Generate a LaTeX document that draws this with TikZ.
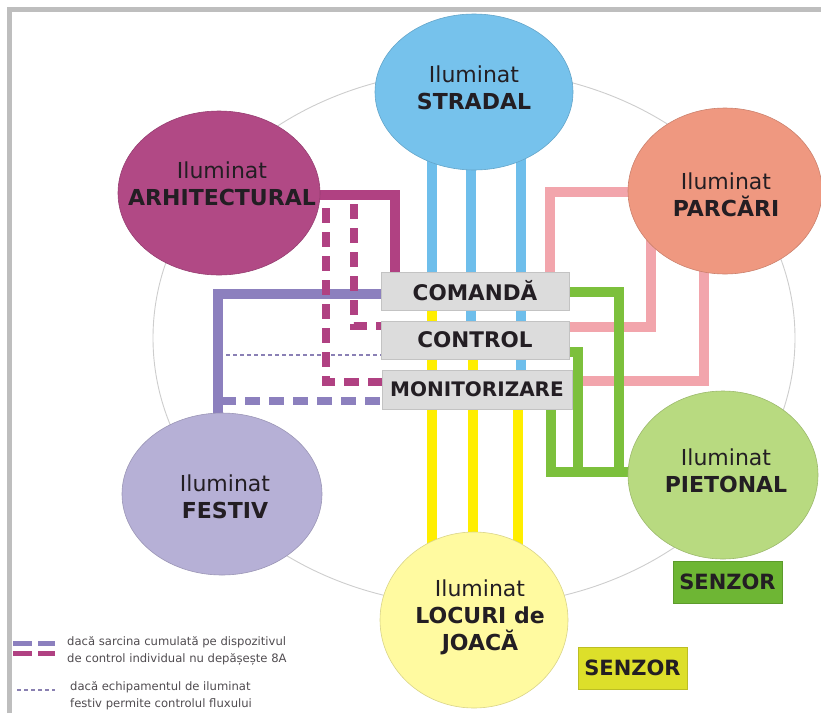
\documentclass[tikz,border=0pt]{standalone}
\usepackage{fontspec}
\setmainfont{DejaVu Sans}
\usetikzlibrary{shapes.geometric,backgrounds}
\definecolor{cStr}{RGB}{118,194,236}
\definecolor{cArh}{RGB}{177,73,133}
\definecolor{cPar}{RGB}{239,152,128}
\definecolor{cPie}{RGB}{184,218,128}
\definecolor{cFes}{RGB}{182,176,214}
\definecolor{cLoc}{RGB}{255,250,160}
\definecolor{lStr}{RGB}{110,190,235}
\definecolor{lArh}{RGB}{176,65,130}
\definecolor{lFes}{RGB}{140,128,190}
\definecolor{lPar}{RGB}{242,165,172}
\definecolor{lPie}{RGB}{124,192,60}
\definecolor{lLoc}{RGB}{255,238,0}
\definecolor{boxfill}{RGB}{220,220,220}
\definecolor{boxline}{RGB}{195,195,195}
\definecolor{txt}{RGB}{35,30,35}
\definecolor{framec}{RGB}{190,190,190}
\definecolor{ringc}{RGB}{205,205,205}
\definecolor{szGreen}{RGB}{110,182,52}
\definecolor{szYellow}{RGB}{221,223,42}
\begin{document}
\begin{tikzpicture}
    [x=1pt,y=-1pt,
     elli/.style={ellipse,inner sep=0pt,line width=0.6pt,fill=#1,draw=#1!85!black},
     ttl/.style={align=center,text=txt,inner sep=0pt,font=\fontsize{22}{27}\selectfont},
     cmd/.style={rectangle,draw=boxline,fill=boxfill,line width=1pt,inner sep=0pt,
                 minimum width=188pt,minimum height=38pt,text=txt,
                 font=\bfseries\fontsize{21.5}{26}\selectfont},
     senz/.style={rectangle,fill=#1,draw=#1!85!black,line width=0.6pt,inner sep=0pt,
                  minimum width=109pt,minimum height=42pt,text=txt,
                  font=\bfseries\fontsize{21}{26}\selectfont},
     wire/.style={line width=9.5pt},
     dwire/.style={line width=8pt,dash pattern=on 15pt off 9pt},
     twire/.style={line width=1.8pt,dash pattern=on 4pt off 3pt},
     leg/.style={align=left,inner sep=0pt,text=txt!80,font=\fontsize{11.6}{17.5}\selectfont}]
  \useasboundingbox (0,0) rectangle (821,713);

  % lighting types
  \node[elli=cStr,minimum width=198pt,minimum height=156pt] (str) at (474,92) {};
  \node[elli=cArh,minimum width=202pt,minimum height=164pt] (arh) at (219,193) {};
  \node[elli=cPar,minimum width=194pt,minimum height=166pt] (par) at (725,191) {};
  \node[elli=cPie,minimum width=190pt,minimum height=168pt] (pie) at (723,475) {};
  \node[elli=cFes,minimum width=200pt,minimum height=162pt] (fes) at (222,494) {};
  \node[elli=cLoc,minimum width=188pt,minimum height=176pt] (loc) at (474,620) {};

  \node[ttl] (str-t) at (474,88) {Iluminat\\\textbf{STRADAL}};
  \node[ttl] (arh-t) at (222,184) {Iluminat\\\textbf{ARHITECTURAL}};
  \node[ttl] (par-t) at (726,195) {Iluminat\\\textbf{PARCĂRI}};
  \node[ttl] (pie-t) at (726,471) {Iluminat\\\textbf{PIETONAL}};
  \node[ttl] (fes-t) at (225,497) {Iluminat\\\textbf{FESTIV}};
  \node[ttl] (loc-t) at (480,617) {Iluminat\\\textbf{LOCURI de}\\\textbf{JOACĂ}};

  % central blocks
  \node[cmd] (com) at (475,291) {COMANDĂ};
  \node[cmd] (ctl) at (475,340) {CONTROL};
  \node[cmd,minimum width=190pt,minimum height=39pt,
        font=\bfseries\fontsize{20}{24}\selectfont] (mon) at (477,389.5) {MONITORIZARE};

  \node[senz=szGreen] (sz1) at (727.5,582) {SENZOR};
  \node[senz=szYellow] (sz2) at (632.5,668) {SENZOR};

  % legend
  \draw[lFes,line width=5pt,dash pattern=on 19pt off 6pt] (13,643.5) -- (55,643.5);
  \draw[lArh,line width=5pt,dash pattern=on 19pt off 6pt] (13,653.5) -- (55,653.5);
  \draw[lFes!80!gray,line width=1.5pt,dash pattern=on 4pt off 3pt] (17,690) -- (55,690);
  \node[leg,anchor=west] (leg1) at (67,651) {dacă sarcina cumulată pe dispozitivul\\de control individual nu depășește 8A};
  \node[leg,anchor=west] (leg2) at (70,696) {dacă echipamentul de iluminat\\festiv permite controlul fluxului};

  \begin{pgfonlayer}{background}
    \draw[framec,line width=5pt] (9.5,713) -- (9.5,9.5) -- (821,9.5);
    \draw[ringc,line width=0.9pt] (474,338) ellipse [x radius=321pt,y radius=268pt];

    % festiv
    \draw[twire,lFes!85!gray] (fes -| 218,0) |- (ctl.west |- 0,355);
    \draw[dwire,lFes] (fes -| 218,0) |- (mon.west |- 0,401);
    \draw[wire,lFes] (fes -| 218,0) |- (com.west |- 0,294);
    % arhitectural
    \draw[dwire,lArh] (arh |- 0,195) -| (326,382) -- (mon.west |- 0,382);
    \draw[dwire,lArh] (arh |- 0,195) -| (354,326) -- (ctl.west |- 0,326);
    \draw[wire,lArh] (arh |- 0,195) -| (com.north -| 395,0);
    % parcari
    \draw[wire,lPar] (com.north -| 550,0) |- (par |- 0,192);
    \draw[wire,lPar] (ctl.east |- 0,327) -| (par -| 651,0);
    \draw[wire,lPar] (mon.east |- 0,381) -| (par -| 704,0);
    % pietonal
    \draw[wire,lPie] (mon.south -| 551,0) |- (pie |- 0,472);
    \draw[wire,lPie] (com.east |- 0,292) -| (619,472);
    \draw[wire,lPie] (ctl.east |- 0,352) -| (578,472);
    % stradal
    \foreach \xx/\bx in {432/com,471/ctl,521/mon}
      \draw[wire,lStr] (str -| \xx,0) -- (\bx.north -| \xx,0);
    % locuri de joaca
    \foreach \xx/\bx in {432/com,473/ctl,518/mon}
      \draw[wire,lLoc] (\bx -| \xx,0) -- (loc -| \xx,0);
  \end{pgfonlayer}
\end{tikzpicture}
\end{document}
